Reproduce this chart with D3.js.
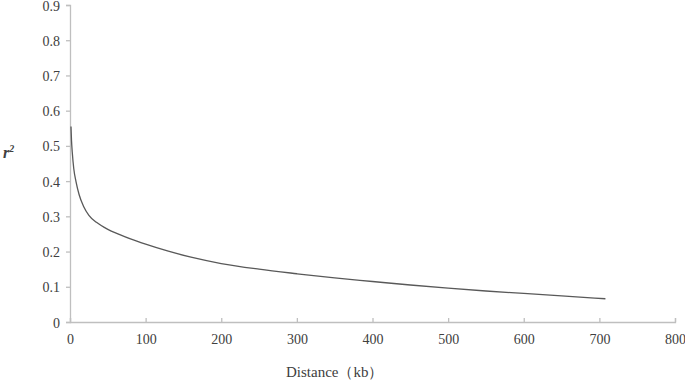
<!DOCTYPE html>
<html lang="en">
<head>
    <meta charset="UTF-8">
    <title>LD decay</title>
    <script src="https://cdn.jsdelivr.net/npm/d3@7"></script>
    <style>
        body { margin: 0; background: #fff; }
        text { font-family: "Liberation Serif", "Times New Roman", serif; fill: #404040; }
    </style>
</head>
<body>
<script>
    // distance (kb) and r^2
    var distance = [1.3, 2, 3, 5, 8, 12, 18, 25, 35, 50, 65, 80, 100, 130, 160, 200, 250, 300, 350, 400, 450, 500, 550, 600, 650, 708];
    var r2 = [0.555, 0.515, 0.482, 0.435, 0.398, 0.362, 0.328, 0.303, 0.283, 0.263, 0.249, 0.236, 0.221, 0.201, 0.184, 0.166, 0.150, 0.137, 0.125, 0.115, 0.105, 0.096, 0.088, 0.081, 0.074, 0.066];
    var xTicks = [0, 100, 200, 300, 400, 500, 600, 700, 800];
    var yTicks = [0, 0.1, 0.2, 0.3, 0.4, 0.5, 0.6, 0.7, 0.8, 0.9];

    var width = 685, height = 380;
    var mLeft = 70, mRight = 675, mTop = 5, mBottom = 322;

    var svg = d3.select("body").append("svg")
        .attr("width", width)
        .attr("height", height);

    var x = d3.scaleLinear().domain([0, 800]).range([mLeft, mRight]);
    var y = d3.scaleLinear().domain([0, 0.9]).range([mBottom, mTop]);

    // x axis, ticks pointing up
    var gx = svg.append("g")
        .attr("transform", "translate(0," + mBottom + ")")
        .call(d3.axisBottom(x).tickValues(xTicks).tickSize(-4).tickPadding(10).tickFormat(d3.format("d")));

    // y axis
    var gy = svg.append("g")
        .attr("transform", "translate(" + mLeft + ",0)")
        .call(d3.axisLeft(y).tickValues(yTicks).tickSize(4).tickPadding(6)
            .tickFormat(function (d) { return d === 0 ? "0" : d3.format(".1f")(d); }));

    [gx, gy].forEach(function (g) {
        g.select(".domain").attr("stroke", "#bfbfbf").attr("stroke-width", 1.3);
        g.selectAll(".tick line").attr("stroke", "#bfbfbf").attr("stroke-width", 1.3);
        g.selectAll(".tick text").attr("font-size", 14).attr("fill", "#404040")
            .style("font-family", "'Liberation Serif', serif");
    });
    gx.selectAll(".tick text").attr("dy", "0.71em").attr("y", 12);
    gy.selectAll(".tick text").attr("dy", "0.36em");

    var points = distance.map(function (d, i) { return [d, r2[i]]; });

    svg.append("path")
        .datum(points)
        .attr("fill", "none")
        .attr("stroke", "#595959")
        .attr("stroke-width", 1.3)
        .attr("d", d3.line()
            .x(function (d) { return x(d[0]); })
            .y(function (d) { return y(d[1]); })
            .curve(d3.curveMonotoneX));

    // axis titles
    svg.append("text")
        .attr("x", 286)
        .attr("y", 377)
        .attr("font-size", 15)
        .text("Distance（kb）");

    var yl = svg.append("text")
        .attr("x", 3)
        .attr("y", 158)
        .attr("font-size", 16)
        .attr("font-weight", "bold")
        .attr("font-style", "italic");
    yl.append("tspan").text("r");
    yl.append("tspan").attr("font-size", 10).attr("dy", -6).text("2");
</script>
</body>
</html>
